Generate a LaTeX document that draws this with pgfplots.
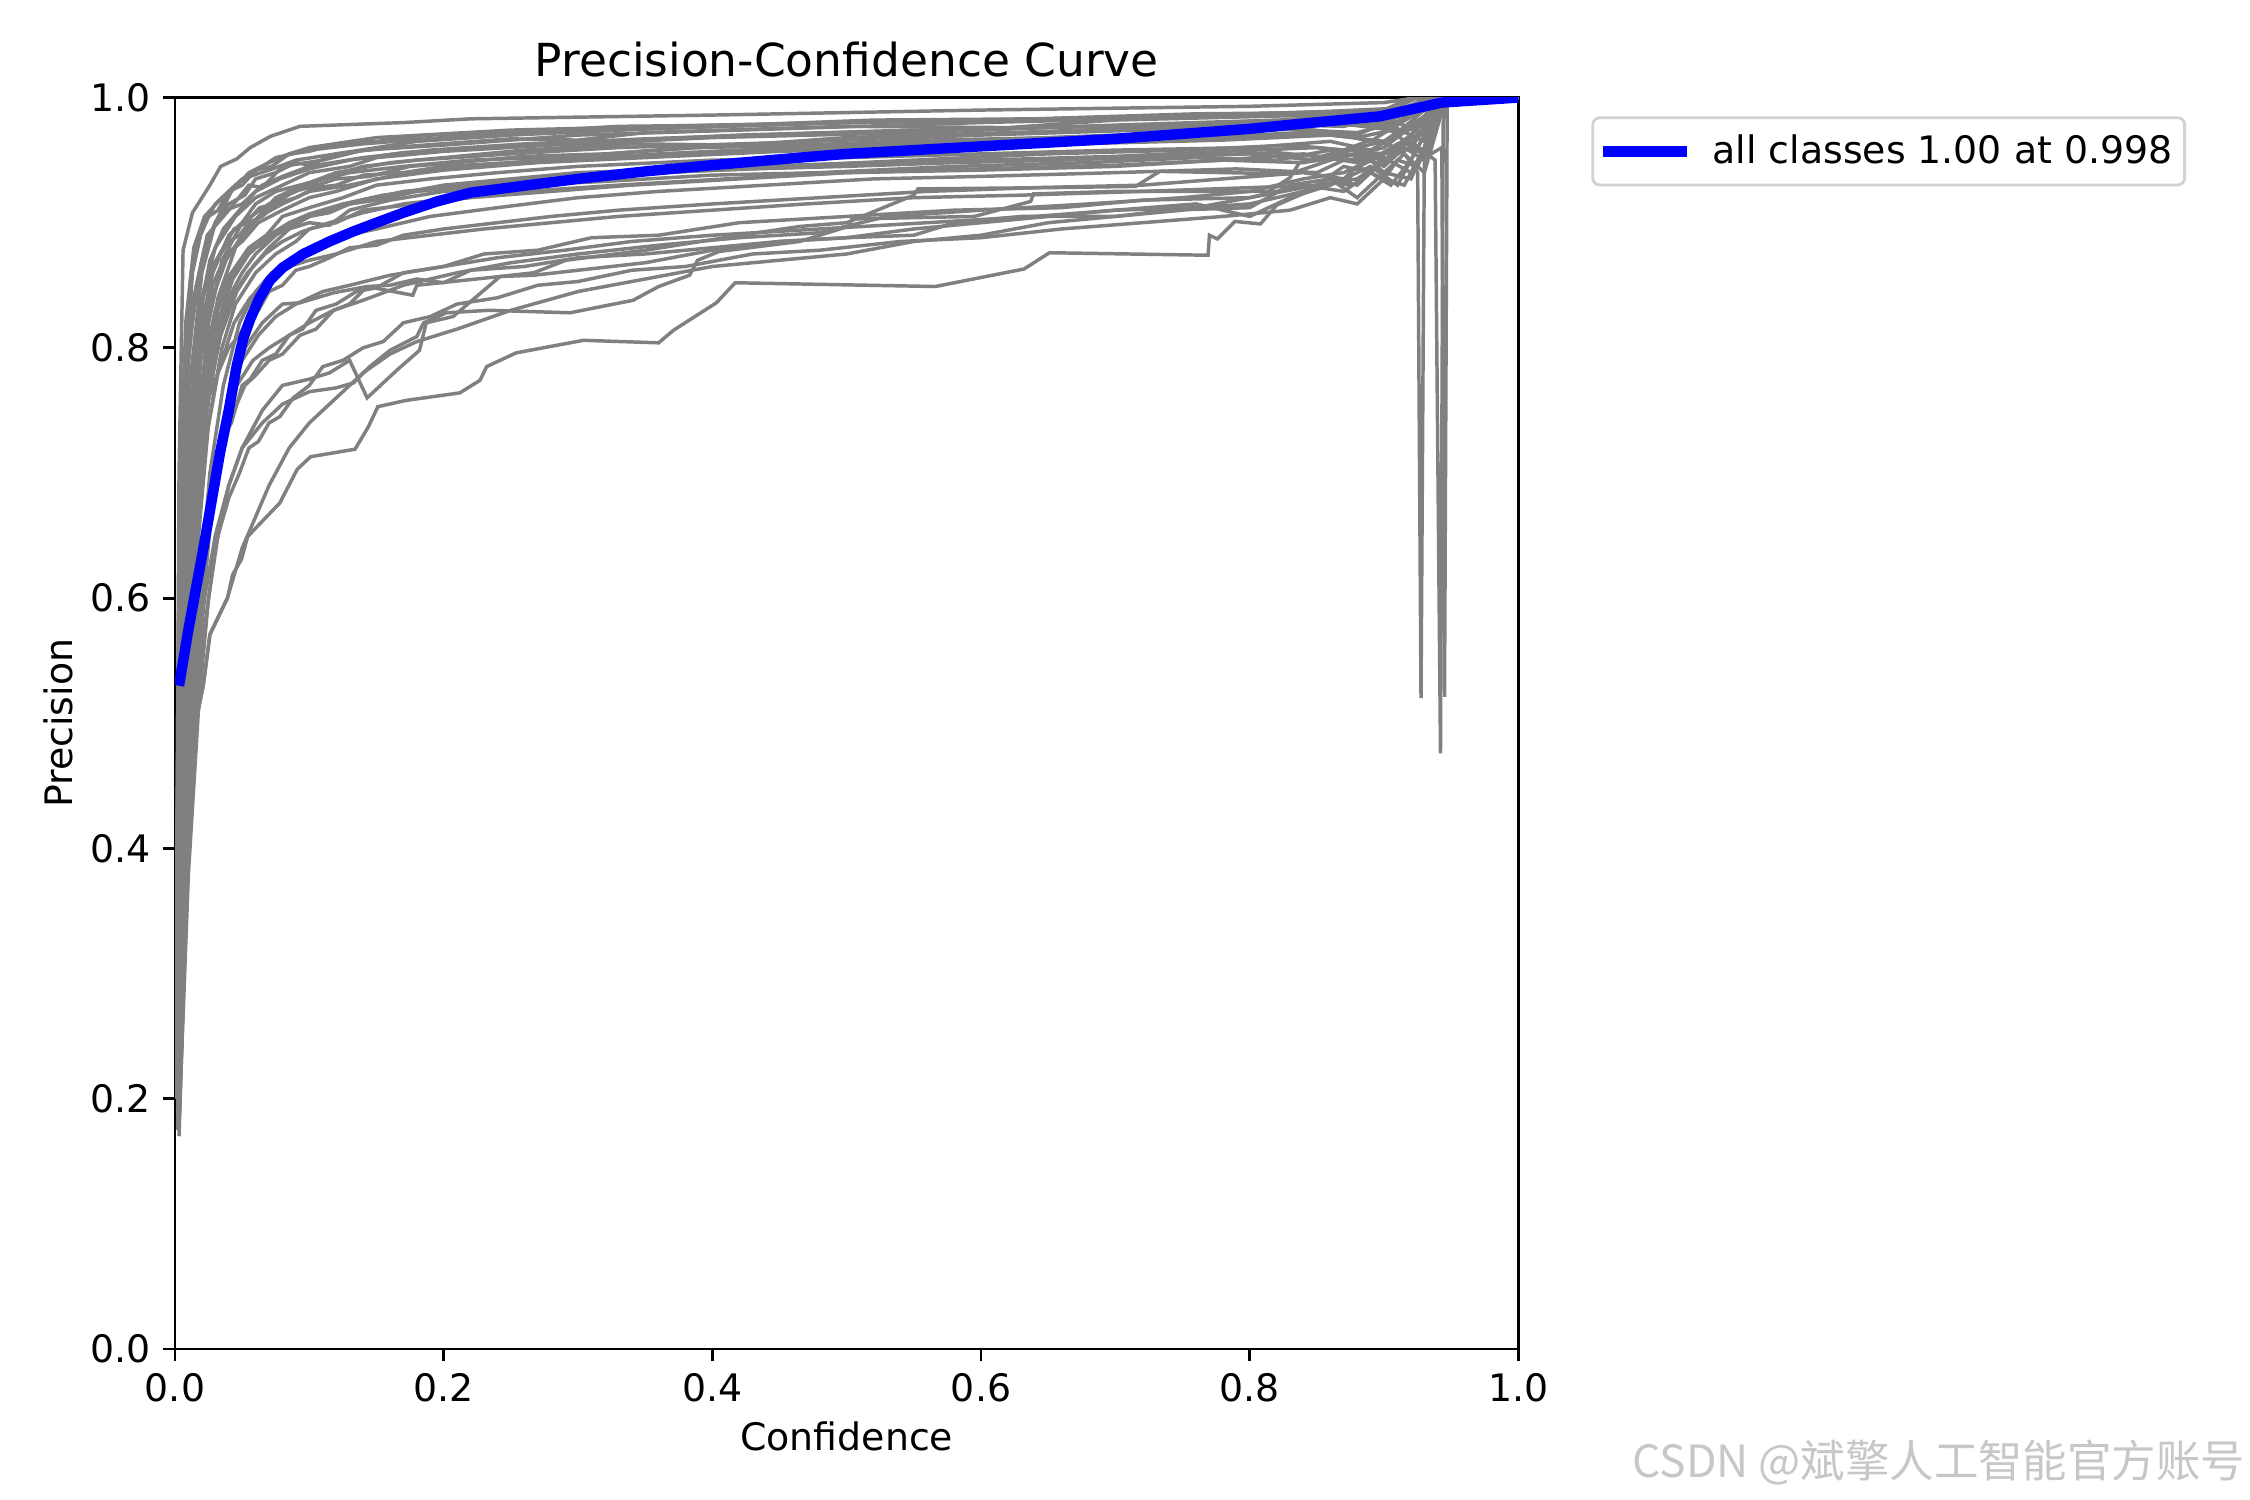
\documentclass[border=0pt]{standalone}
\usepackage{pgfplots}
\pgfplotsset{compat=1.18}
\usepackage{fontspec}
\setmainfont{DejaVu Sans}
\newfontfamily\cjk{Noto Sans CJK SC}
\definecolor{pgray}{HTML}{808080}
\definecolor{pblue}{HTML}{0000FF}
\pgfplotsset{gr/.style={pgray, line width=1bp, forget plot}}
\begin{document}
\begin{tikzpicture}
\useasboundingbox (-50.4bp,-43.5bp) rectangle (597.6bp,388.5bp);
\begin{axis}[
  at={(0,0)}, anchor=south west,
  scale only axis, width=386.9bp, height=360.4bp,
  xmin=0, xmax=1, ymin=0, ymax=1,
  xtick={0,0.2,0.4,0.6,0.8,1}, ytick={0,0.2,0.4,0.6,0.8,1},
  xtick pos=bottom, ytick pos=left,
  tick align=outside, major tick length=3.5bp,
  tick style={black, line width=0.8bp},
  axis line style={line width=0.8bp},
  minor tick num=0,
  /pgf/number format/assume math mode=true,
  /pgf/number format/.cd, fixed, fixed zerofill, precision=1, /pgfplots/.cd,
  tick label style={font=\fontsize{10.9bp}{13bp}\selectfont},
  label style={font=\fontsize{10.9bp}{13bp}\selectfont},
  ylabel style={yshift=-1.7bp},
  xlabel style={yshift=1.2bp},
  title style={font=\fontsize{13.1bp}{15bp}\selectfont, yshift=-3.5bp},
  title={Precision-Confidence Curve},
  xlabel={Confidence}, ylabel={Precision},
  legend style={at={(1.0543,0.985)}, anchor=north west, draw=black!18, line width=0.8bp, rounded corners=2bp,
    font=\fontsize{10.9bp}{13bp}\selectfont, inner xsep=1.5bp, inner ysep=2.8bp},
  legend cell align=left,
  legend image code/.code={\draw[#1] (0bp,0bp) -- (24bp,0bp); \path (28bp,0bp);},
]
% U1
\addplot[gr] coordinates {(0.001,0.3) (0.003,0.7) (0.006,0.878) (0.013,0.908) (0.026,0.93) (0.034,0.945) (0.046,0.951) (0.056,0.96) (0.071,0.969) (0.093,0.977) (0.17,0.98) (0.22,0.983) (0.4,0.986) (0.6,0.99) (0.8,0.993) (0.9,0.996) (0.925,1.0) (1,1)};
% U2
\addplot[gr] coordinates {(0.001,0.25) (0.004,0.6) (0.01,0.8) (0.02,0.87) (0.03,0.9) (0.04,0.915) (0.052,0.922) (0.06,0.935) (0.075,0.94) (0.09,0.948) (0.1,0.946) (0.12,0.955) (0.16,0.96) (0.25,0.967) (0.3,0.966) (0.35,0.972) (0.5,0.977) (0.62,0.976) (0.7,0.982) (0.85,0.986) (0.91,0.99) (0.935,1.0) (1,1)};
% U3
\addplot[gr] coordinates {(0.001,0.28) (0.005,0.55) (0.012,0.75) (0.02,0.84) (0.03,0.88) (0.045,0.905) (0.06,0.92) (0.08,0.93) (0.1,0.94) (0.13,0.945) (0.15,0.952) (0.2,0.957) (0.28,0.962) (0.4,0.968) (0.55,0.972) (0.7,0.978) (0.85,0.983) (0.9,0.979) (0.92,0.99) (0.94,1.0) (1,1)};
% U4
\addplot[gr] coordinates {(0.001,0.22) (0.006,0.5) (0.015,0.72) (0.025,0.82) (0.035,0.87) (0.05,0.9) (0.07,0.915) (0.09,0.925) (0.11,0.935) (0.14,0.945) (0.18,0.95) (0.25,0.955) (0.33,0.96) (0.45,0.964) (0.6,0.97) (0.75,0.975) (0.88,0.98) (0.91,0.972) (0.93,0.99) (0.948,1) (1,1)};
% U5
\addplot[gr] coordinates {(0.001,0.3) (0.004,0.62) (0.009,0.78) (0.016,0.85) (0.024,0.89) (0.04,0.91) (0.055,0.93) (0.065,0.928) (0.08,0.945) (0.11,0.95) (0.14,0.958) (0.2,0.962) (0.3,0.97) (0.45,0.975) (0.6,0.98) (0.75,0.984) (0.87,0.988) (0.91,0.985) (0.93,1) (1,1)};
% U6
\addplot[gr] coordinates {(0.001,0.2) (0.005,0.45) (0.012,0.66) (0.022,0.78) (0.032,0.84) (0.045,0.88) (0.058,0.9) (0.075,0.92) (0.095,0.93) (0.12,0.94) (0.16,0.948) (0.2,0.952) (0.26,0.958) (0.34,0.963) (0.42,0.962) (0.5,0.968) (0.65,0.973) (0.8,0.979) (0.87,0.977) (0.9,0.985) (0.92,0.975) (0.935,0.99) (0.945,1) (1,1)};
% U7
\addplot[gr] coordinates {(0.001,0.35) (0.003,0.65) (0.008,0.82) (0.014,0.88) (0.022,0.905) (0.035,0.92) (0.05,0.935) (0.07,0.942) (0.09,0.95) (0.12,0.955) (0.18,0.965) (0.25,0.97) (0.35,0.975) (0.5,0.98) (0.65,0.983) (0.8,0.987) (0.9,0.99) (0.92,1) (1,1)};
% U8
\addplot[gr] coordinates {(0.001,0.27) (0.004,0.52) (0.01,0.7) (0.018,0.8) (0.028,0.86) (0.04,0.89) (0.05,0.9) (0.06,0.915) (0.075,0.925) (0.1,0.932) (0.13,0.94) (0.17,0.945) (0.22,0.95) (0.3,0.953) (0.38,0.96) (0.5,0.963) (0.6,0.966) (0.7,0.97) (0.82,0.975) (0.88,0.972) (0.91,0.98) (0.93,0.97) (0.94,0.99) (0.947,1) (1,1)};
% U9
\addplot[gr] coordinates {(0.001,0.24) (0.005,0.58) (0.011,0.77) (0.02,0.86) (0.03,0.9) (0.042,0.925) (0.055,0.94) (0.07,0.948) (0.085,0.955) (0.1,0.96) (0.15,0.968) (0.25,0.974) (0.4,0.978) (0.55,0.981) (0.7,0.984) (0.82,0.986) (0.9,0.982) (0.915,0.99) (0.93,1) (1,1)};
% U10
\addplot[gr] coordinates {(0.001,0.3) (0.004,0.6) (0.008,0.76) (0.014,0.84) (0.022,0.88) (0.03,0.9) (0.038,0.91) (0.05,0.915) (0.065,0.93) (0.08,0.937) (0.1,0.945) (0.14,0.952) (0.19,0.958) (0.26,0.963) (0.35,0.967) (0.46,0.971) (0.6,0.975) (0.74,0.978) (0.86,0.98) (0.9,0.975) (0.925,0.99) (0.94,1) (1,1)};
% U11
\addplot[gr] coordinates {(0.001,0.26) (0.005,0.55) (0.01,0.72) (0.017,0.82) (0.026,0.87) (0.036,0.895) (0.048,0.91) (0.06,0.925) (0.078,0.935) (0.1,0.943) (0.13,0.95) (0.17,0.956) (0.23,0.96) (0.32,0.965) (0.42,0.97) (0.55,0.974) (0.68,0.977) (0.8,0.98) (0.88,0.984) (0.91,0.978) (0.935,0.995) (0.945,1) (1,1)};
% U12
\addplot[gr] coordinates {(0.001,0.32) (0.003,0.6) (0.007,0.79) (0.012,0.86) (0.02,0.895) (0.03,0.915) (0.045,0.93) (0.058,0.94) (0.075,0.952) (0.1,0.958) (0.14,0.963) (0.2,0.968) (0.28,0.972) (0.38,0.976) (0.5,0.98) (0.62,0.982) (0.75,0.985) (0.86,0.989) (0.92,0.992) (0.93,1) (1,1)};
% N6
\addplot[gr] coordinates {(0.001,0.28) (0.004,0.6) (0.008,0.78) (0.013,0.86) (0.019,0.89) (0.025,0.905) (0.032,0.91) (0.04,0.925) (0.05,0.93) (0.06,0.942) (0.072,0.945) (0.085,0.955) (0.1,0.957) (0.12,0.963) (0.15,0.965) (0.19,0.97) (0.25,0.972) (0.33,0.977) (0.42,0.978) (0.52,0.982) (0.64,0.983) (0.76,0.987) (0.86,0.988) (0.9,0.985) (0.915,0.995) (0.925,1) (1,1)};
% N7
\addplot[gr] coordinates {(0.001,0.23) (0.005,0.52) (0.01,0.7) (0.015,0.79) (0.021,0.84) (0.028,0.865) (0.036,0.88) (0.044,0.895) (0.053,0.9) (0.063,0.912) (0.075,0.915) (0.088,0.925) (0.1,0.928) (0.12,0.935) (0.145,0.937) (0.175,0.945) (0.21,0.948) (0.26,0.953) (0.32,0.955) (0.39,0.96) (0.47,0.962) (0.56,0.966) (0.66,0.968) (0.76,0.972) (0.84,0.975) (0.88,0.97) (0.9,0.98) (0.92,0.97) (0.935,0.99) (0.945,1) (1,1)};
% N3
\addplot[gr] coordinates {(0.002,0.22) (0.005,0.48) (0.01,0.68) (0.016,0.78) (0.022,0.83) (0.028,0.86) (0.034,0.875) (0.04,0.885) (0.048,0.89) (0.055,0.9) (0.065,0.905) (0.075,0.915) (0.09,0.92) (0.105,0.928) (0.12,0.93) (0.14,0.938) (0.17,0.94) (0.2,0.945) (0.25,0.948) (0.3,0.952) (0.4,0.955) (0.5,0.96) (0.6,0.962) (0.7,0.966) (0.8,0.968) (0.86,0.972) (0.89,0.965) (0.905,0.975) (0.92,0.96) (0.935,0.985) (0.943,1) (1,1)};
% M1
\addplot[gr] coordinates {(0.002,0.2) (0.006,0.4) (0.012,0.6) (0.02,0.72) (0.03,0.8) (0.04,0.84) (0.05,0.86) (0.06,0.875) (0.075,0.89) (0.09,0.9) (0.11,0.91) (0.13,0.915) (0.16,0.922) (0.2,0.93) (0.25,0.935) (0.3,0.94) (0.38,0.943) (0.45,0.945) (0.55,0.95) (0.65,0.955) (0.75,0.958) (0.83,0.962) (0.87,0.958) (0.89,0.966) (0.91,0.96) (0.925,0.975) (0.94,0.99) (0.95,1) (1,1)};
% M2
\addplot[gr] coordinates {(0.002,0.19) (0.007,0.42) (0.015,0.62) (0.025,0.74) (0.035,0.8) (0.045,0.835) (0.06,0.86) (0.075,0.875) (0.09,0.885) (0.1,0.895) (0.12,0.9) (0.14,0.91) (0.18,0.915) (0.22,0.92) (0.28,0.925) (0.34,0.93) (0.42,0.935) (0.5,0.94) (0.6,0.942) (0.7,0.945) (0.78,0.95) (0.84,0.948) (0.88,0.955) (0.9,0.945) (0.915,0.96) (0.93,0.95) (0.94,0.98) (0.948,1) (1,1)};
% M3
\addplot[gr] coordinates {(0.002,0.22) (0.006,0.48) (0.013,0.66) (0.022,0.77) (0.032,0.83) (0.042,0.86) (0.055,0.88) (0.068,0.89) (0.08,0.905) (0.1,0.912) (0.125,0.92) (0.15,0.93) (0.19,0.935) (0.24,0.94) (0.3,0.945) (0.4,0.95) (0.5,0.952) (0.6,0.955) (0.7,0.958) (0.8,0.96) (0.86,0.965) (0.89,0.958) (0.91,0.97) (0.93,0.98) (0.94,1) (1,1)};
% M4
\addplot[gr] coordinates {(0.002,0.18) (0.008,0.4) (0.016,0.58) (0.026,0.7) (0.036,0.77) (0.048,0.82) (0.06,0.845) (0.072,0.86) (0.085,0.87) (0.1,0.88) (0.12,0.888) (0.15,0.895) (0.19,0.905) (0.24,0.912) (0.3,0.92) (0.36,0.925) (0.44,0.93) (0.52,0.935) (0.6,0.937) (0.7,0.94) (0.79,0.943) (0.85,0.94) (0.87,0.95) (0.9,0.952) (0.92,0.94) (0.935,0.97) (0.945,1) (1,1)};
% M5
\addplot[gr] coordinates {(0.002,0.23) (0.006,0.5) (0.012,0.7) (0.02,0.8) (0.028,0.85) (0.038,0.875) (0.05,0.885) (0.062,0.9) (0.08,0.91) (0.1,0.92) (0.12,0.925) (0.15,0.935) (0.2,0.942) (0.27,0.948) (0.35,0.952) (0.45,0.957) (0.55,0.96) (0.67,0.963) (0.78,0.966) (0.86,0.97) (0.9,0.965) (0.92,0.98) (0.935,1) (1,1)};
% M6 (spike)
\addplot[gr] coordinates {(0.002,0.21) (0.007,0.45) (0.014,0.64) (0.023,0.75) (0.034,0.81) (0.046,0.845) (0.058,0.865) (0.07,0.88) (0.085,0.895) (0.1,0.9) (0.115,0.898) (0.13,0.91) (0.16,0.918) (0.2,0.925) (0.26,0.93) (0.32,0.933) (0.4,0.938) (0.48,0.94) (0.58,0.945) (0.68,0.948) (0.76,0.952) (0.82,0.95) (0.86,0.958) (0.89,0.95) (0.91,0.963) (0.925,0.94) (0.9275,0.52) (0.93,0.96) (0.94,1) (1,1)};
% M7 (spike)
\addplot[gr] coordinates {(0.002,0.21) (0.007,0.46) (0.014,0.65) (0.022,0.76) (0.032,0.82) (0.043,0.855) (0.055,0.875) (0.07,0.89) (0.085,0.9) (0.1,0.907) (0.125,0.915) (0.155,0.922) (0.195,0.928) (0.25,0.933) (0.32,0.938) (0.4,0.942) (0.5,0.946) (0.6,0.95) (0.7,0.953) (0.78,0.957) (0.85,0.96) (0.9,0.955) (0.92,0.965) (0.938,0.95) (0.942,0.476) (0.944,0.98) (0.947,1) (1,1)};
% M8 (spike)
\addplot[gr] coordinates {(0.002,0.2) (0.006,0.43) (0.013,0.62) (0.021,0.73) (0.031,0.8) (0.042,0.84) (0.054,0.86) (0.067,0.875) (0.08,0.885) (0.095,0.893) (0.115,0.9) (0.14,0.908) (0.17,0.915) (0.21,0.92) (0.26,0.925) (0.33,0.93) (0.41,0.935) (0.5,0.94) (0.6,0.943) (0.7,0.946) (0.78,0.95) (0.84,0.955) (0.88,0.948) (0.91,0.96) (0.935,0.955) (0.943,0.96) (0.945,0.521) (0.947,1) (1,1)};
% M9
\addplot[gr] coordinates {(0.002,0.2) (0.006,0.44) (0.012,0.63) (0.02,0.74) (0.03,0.81) (0.04,0.85) (0.05,0.87) (0.065,0.885) (0.08,0.895) (0.1,0.905) (0.13,0.915) (0.17,0.925) (0.22,0.93) (0.28,0.935) (0.35,0.94) (0.43,0.945) (0.52,0.948) (0.62,0.95) (0.72,0.952) (0.8,0.955) (0.85,0.95) (0.88,0.96) (0.9,0.94) (0.915,0.955) (0.93,0.94) (0.938,0.97) (0.946,1) (1,1)};
% M10
\addplot[gr] coordinates {(0.002,0.24) (0.005,0.5) (0.011,0.69) (0.019,0.79) (0.028,0.84) (0.038,0.87) (0.05,0.89) (0.063,0.905) (0.08,0.915) (0.1,0.925) (0.13,0.93) (0.16,0.937) (0.21,0.945) (0.28,0.95) (0.36,0.955) (0.46,0.96) (0.56,0.963) (0.66,0.965) (0.76,0.968) (0.84,0.972) (0.88,0.968) (0.91,0.975) (0.93,0.965) (0.94,0.99) (0.948,1) (1,1)};
% N5
\addplot[gr] coordinates {(0.002,0.21) (0.006,0.47) (0.011,0.65) (0.017,0.74) (0.024,0.8) (0.03,0.83) (0.038,0.855) (0.046,0.865) (0.054,0.878) (0.064,0.882) (0.074,0.892) (0.086,0.896) (0.1,0.905) (0.115,0.908) (0.13,0.915) (0.15,0.918) (0.18,0.925) (0.21,0.928) (0.25,0.933) (0.3,0.936) (0.36,0.94) (0.43,0.943) (0.5,0.945) (0.58,0.948) (0.66,0.95) (0.74,0.953) (0.82,0.956) (0.86,0.952) (0.88,0.96) (0.9,0.948) (0.915,0.965) (0.93,0.955) (0.94,0.985) (0.948,1) (1,1)};
% N2
\addplot[gr] coordinates {(0.002,0.2) (0.006,0.46) (0.012,0.63) (0.018,0.7) (0.025,0.76) (0.032,0.78) (0.04,0.8) (0.048,0.81) (0.055,0.825) (0.062,0.83) (0.07,0.845) (0.08,0.85) (0.09,0.862) (0.1,0.865) (0.115,0.872) (0.13,0.88) (0.15,0.882) (0.17,0.89) (0.2,0.895) (0.24,0.9) (0.28,0.905) (0.33,0.91) (0.4,0.915) (0.48,0.92) (0.56,0.925) (0.64,0.928) (0.72,0.93) (0.78,0.935) (0.84,0.94) (0.87,0.935) (0.88,0.945) (0.9,0.935) (0.91,0.95) (0.925,0.945) (0.935,0.97) (0.945,1) (1,1)};
% N1
\addplot[gr] coordinates {(0.003,0.19) (0.008,0.42) (0.015,0.58) (0.022,0.66) (0.03,0.7) (0.036,0.73) (0.042,0.74) (0.05,0.77) (0.056,0.775) (0.065,0.79) (0.075,0.795) (0.085,0.81) (0.095,0.815) (0.105,0.83) (0.12,0.835) (0.135,0.845) (0.15,0.848) (0.17,0.86) (0.2,0.865) (0.23,0.875) (0.27,0.878) (0.31,0.888) (0.36,0.89) (0.42,0.9) (0.5,0.905) (0.58,0.91) (0.66,0.912) (0.72,0.918) (0.8,0.92) (0.84,0.93) (0.87,0.925) (0.89,0.94) (0.905,0.93) (0.92,0.95) (0.935,0.98) (0.945,1) (1,1)};
% N4
\addplot[gr] coordinates {(0.003,0.18) (0.01,0.38) (0.018,0.52) (0.025,0.6) (0.032,0.65) (0.04,0.68) (0.048,0.7) (0.055,0.72) (0.062,0.725) (0.07,0.74) (0.078,0.745) (0.088,0.76) (0.1,0.77) (0.11,0.785) (0.125,0.79) (0.14,0.8) (0.155,0.805) (0.17,0.82) (0.19,0.825) (0.21,0.835) (0.24,0.84) (0.27,0.85) (0.3,0.853) (0.34,0.862) (0.38,0.865) (0.43,0.875) (0.48,0.878) (0.54,0.885) (0.6,0.888) (0.66,0.895) (0.72,0.9) (0.78,0.905) (0.83,0.91) (0.86,0.92) (0.88,0.915) (0.9,0.935) (0.915,0.93) (0.93,0.96) (0.942,1) (1,1)};
% N8
\addplot[gr] coordinates {(0.003,0.19) (0.009,0.41) (0.016,0.57) (0.023,0.65) (0.03,0.7) (0.037,0.73) (0.044,0.75) (0.052,0.77) (0.06,0.778) (0.07,0.79) (0.08,0.795) (0.093,0.81) (0.105,0.815) (0.118,0.83) (0.13,0.835) (0.143,0.849) (0.16,0.85) (0.18,0.855) (0.2,0.852) (0.22,0.862) (0.26,0.865) (0.3,0.872) (0.35,0.875) (0.4,0.88) (0.45,0.885) (0.5,0.888) (0.55,0.89) (0.58,0.9) (0.63,0.905) (0.7,0.905) (0.74,0.91) (0.8,0.912) (0.83,0.93) (0.86,0.935) (0.88,0.92) (0.9,0.94) (0.92,0.935) (0.935,0.97) (0.946,1) (1,1)};
% L1
\addplot[gr] coordinates {(0.003,0.18) (0.009,0.38) (0.018,0.56) (0.028,0.68) (0.038,0.75) (0.05,0.79) (0.062,0.81) (0.075,0.825) (0.09,0.835) (0.11,0.845) (0.13,0.85) (0.16,0.858) (0.2,0.865) (0.24,0.872) (0.29,0.878) (0.34,0.885) (0.4,0.89) (0.48,0.895) (0.56,0.9) (0.64,0.905) (0.7,0.91) (0.76,0.912) (0.8,0.915) (0.84,0.925) (0.86,0.935) (0.88,0.93) (0.9,0.95) (0.92,0.96) (0.94,0.99) (0.95,1) (1,1)};
% L2
\addplot[gr] coordinates {(0.003,0.2) (0.01,0.42) (0.02,0.6) (0.03,0.7) (0.04,0.76) (0.052,0.8) (0.065,0.82) (0.08,0.835) (0.093,0.836) (0.118,0.844) (0.143,0.849) (0.177,0.842) (0.18,0.85) (0.242,0.857) (0.267,0.86) (0.291,0.87) (0.35,0.878) (0.415,0.889) (0.465,0.897) (0.5,0.9) (0.55,0.922) (0.553,0.927) (0.65,0.928) (0.715,0.929) (0.733,0.941) (0.83,0.939) (0.86,0.95) (0.9,0.96) (0.93,0.985) (0.945,1) (1,1)};
% L3
\addplot[gr] coordinates {(0.003,0.19) (0.008,0.4) (0.014,0.52) (0.022,0.6) (0.03,0.65) (0.04,0.69) (0.05,0.72) (0.065,0.74) (0.08,0.755) (0.1,0.765) (0.12,0.768) (0.133,0.772) (0.145,0.785) (0.16,0.798) (0.18,0.809) (0.185,0.82) (0.202,0.828) (0.234,0.83) (0.294,0.828) (0.341,0.838) (0.36,0.849) (0.383,0.858) (0.389,0.87) (0.405,0.877) (0.465,0.885) (0.501,0.897) (0.504,0.903) (0.595,0.905) (0.637,0.917) (0.639,0.923) (0.7,0.925) (0.814,0.925) (0.83,0.936) (0.837,0.948) (0.86,0.955) (0.9,0.965) (0.93,0.985) (0.94,1) (1,1)};
% L4
\addplot[gr] coordinates {(0.003,0.2) (0.009,0.4) (0.017,0.57) (0.026,0.67) (0.036,0.73) (0.046,0.77) (0.058,0.79) (0.07,0.8) (0.085,0.81) (0.1,0.82) (0.118,0.83) (0.14,0.838) (0.17,0.85) (0.21,0.86) (0.25,0.868) (0.3,0.875) (0.36,0.882) (0.42,0.888) (0.48,0.892) (0.53,0.905) (0.6,0.91) (0.68,0.915) (0.75,0.92) (0.8,0.925) (0.84,0.935) (0.87,0.94) (0.9,0.955) (0.925,0.97) (0.94,0.99) (0.95,1) (1,1)};
% L5
\addplot[gr] coordinates {(0.002,0.2) (0.007,0.45) (0.014,0.62) (0.022,0.72) (0.032,0.78) (0.044,0.82) (0.056,0.84) (0.07,0.855) (0.085,0.865) (0.1,0.87) (0.12,0.875) (0.15,0.885) (0.19,0.89) (0.23,0.895) (0.28,0.9) (0.33,0.905) (0.4,0.91) (0.47,0.915) (0.55,0.92) (0.63,0.922) (0.72,0.925) (0.8,0.928) (0.85,0.93) (0.87,0.945) (0.89,0.94) (0.9,0.955) (0.92,0.96) (0.935,0.985) (0.945,1) (1,1)};
% L6
\addplot[gr] coordinates {(0.003,0.17) (0.011,0.446) (0.0134,0.49) (0.021,0.53) (0.026,0.571) (0.039,0.6) (0.05,0.64) (0.058,0.66) (0.07,0.69) (0.085,0.72) (0.1,0.74) (0.12,0.76) (0.14,0.78) (0.16,0.795) (0.18,0.805) (0.21,0.815) (0.25,0.83) (0.3,0.845) (0.35,0.855) (0.4,0.865) (0.45,0.87) (0.5,0.875) (0.55,0.885) (0.6,0.89) (0.65,0.9) (0.7,0.905) (0.75,0.91) (0.8,0.92) (0.85,0.93) (0.88,0.935) (0.9,0.95) (0.93,0.975) (0.945,1) (1,1)};
% L7
\addplot[gr] coordinates {(0.003,0.19) (0.01,0.4) (0.02,0.56) (0.03,0.64) (0.04,0.69) (0.05,0.72) (0.065,0.75) (0.08,0.77) (0.1,0.775) (0.115,0.78) (0.13,0.79) (0.143,0.76) (0.165,0.782) (0.182,0.798) (0.187,0.82) (0.207,0.825) (0.242,0.857) (0.267,0.858) (0.3,0.862) (0.35,0.868) (0.4,0.878) (0.45,0.885) (0.5,0.888) (0.55,0.895) (0.6,0.9) (0.65,0.905) (0.7,0.91) (0.76,0.915) (0.8,0.905) (0.83,0.92) (0.86,0.93) (0.89,0.945) (0.91,0.93) (0.925,0.96) (0.94,0.99) (0.947,1) (1,1)};
% A (lowest)
\addplot[gr] coordinates {(0.002,0.175) (0.006,0.35) (0.011,0.446) (0.0134,0.49) (0.021,0.53) (0.026,0.571) (0.039,0.6) (0.043,0.619) (0.0495,0.631) (0.054,0.649) (0.061,0.657) (0.078,0.676) (0.091,0.703) (0.101,0.713) (0.134,0.719) (0.144,0.737) (0.151,0.753) (0.172,0.758) (0.212,0.764) (0.227,0.774) (0.232,0.785) (0.254,0.796) (0.304,0.806) (0.36,0.804) (0.371,0.814) (0.403,0.836) (0.417,0.852) (0.566,0.849) (0.632,0.863) (0.651,0.876) (0.769,0.874) (0.77,0.89) (0.776,0.887) (0.789,0.901) (0.808,0.899) (0.82,0.914) (0.837,0.922) (0.846,0.926) (0.862,0.932) (0.874,0.93) (0.876,0.942) (0.9,0.955) (0.92,0.97) (0.935,0.99) (0.94,1.0) (1,1)};
% all classes
\addplot[pblue, line width=3bp] coordinates {(0.003,0.53) (0.01,0.575) (0.021,0.639) (0.0335,0.716) (0.04,0.75) (0.046,0.786) (0.051,0.808) (0.056,0.823) (0.063,0.84) (0.0707,0.854) (0.08,0.864) (0.0955,0.875) (0.115,0.885) (0.1327,0.893) (0.15,0.9) (0.17,0.908) (0.195,0.917) (0.22,0.924) (0.2667,0.9305) (0.3,0.935) (0.35,0.941) (0.4,0.946) (0.465,0.952) (0.5,0.955) (0.55,0.958) (0.6,0.961) (0.65,0.964) (0.7,0.967) (0.75,0.971) (0.8,0.975) (0.8377,0.979) (0.897,0.985) (0.943,0.996) (1.0,1.0)};
\addlegendentry{all classes 1.00 at 0.998}
\end{axis}
\node[anchor=east, inner sep=0pt, text=black!22, font=\cjk\fontsize{12.8bp}{15bp}\selectfont] at (596.4bp,-32.6bp) {CSDN @斌擎人工智能官方账号};
\end{tikzpicture}
\end{document}
